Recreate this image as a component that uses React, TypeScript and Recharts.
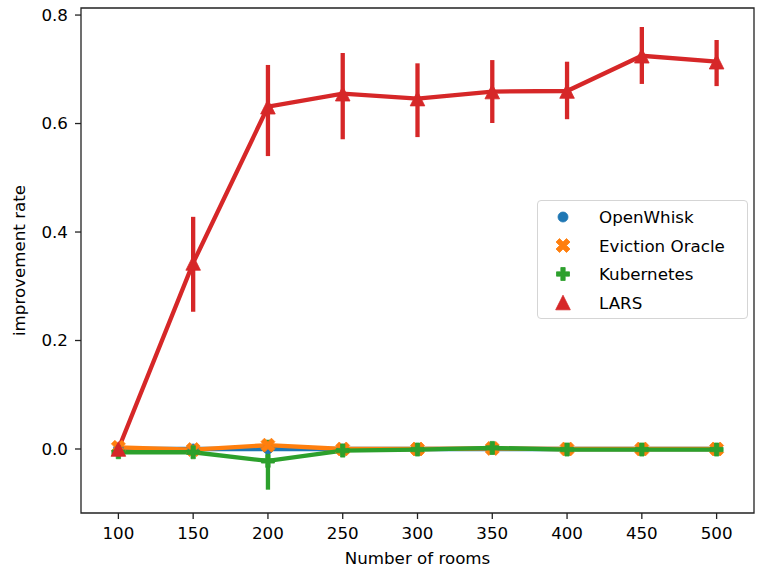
import React from 'react';
import {
  ComposedChart,
  Line,
  XAxis,
  YAxis,
  ErrorBar,
  ReferenceArea,
  Legend,
} from 'recharts';

const categories = ['100', '150', '200', '250', '300', '350', '400', '450', '500'];
const seriesNames = ['OpenWhisk', 'Eviction Oracle', 'Kubernetes', 'LARS'];

const openWhisk = [0, 0, 0, 0, 0, 0, 0, 0, 0];

const evictionOracle = [0.003, -0.001, 0.007, 0.0, 0.0, 0.001, 0.0, 0.0, 0.0];
const evictionLow = [0.0, -0.004, 0.002, -0.002, -0.002, -0.001, -0.002, -0.002, -0.002];
const evictionHigh = [0.006, 0.002, 0.012, 0.002, 0.002, 0.003, 0.002, 0.002, 0.002];

const kubernetes = [-0.006, -0.006, -0.022, -0.003, -0.001, 0.002, -0.001, -0.001, -0.001];
const kubernetesLow = [-0.01, -0.012, -0.075, -0.008, -0.004, -0.002, -0.004, -0.004, -0.004];
const kubernetesHigh = [-0.002, 0.0, 0.017, 0.002, 0.002, 0.006, 0.002, 0.002, 0.002];

const lars = [0.0, 0.343, 0.631, 0.655, 0.646, 0.659, 0.66, 0.725, 0.714];
const larsLow = [0.0, 0.253, 0.54, 0.571, 0.575, 0.601, 0.608, 0.673, 0.669];
const larsHigh = [0.0, 0.428, 0.708, 0.73, 0.711, 0.717, 0.714, 0.778, 0.754];

const yTicks = [0.0, 0.2, 0.4, 0.6, 0.8];
const yDomain: [number, number] = [-0.118, 0.813];
const xDomain: [number, number] = [-0.5, 8.5];

const COLORS: Record<string, string> = {
  OpenWhisk: '#1f77b4',
  'Eviction Oracle': '#ff7f0e',
  Kubernetes: '#2ca02c',
  LARS: '#d62728',
};

const FONT = '"DejaVu Sans", sans-serif';

const data = categories.map((label, i) => ({
  idx: i,
  label,
  openWhisk: openWhisk[i],
  eviction: evictionOracle[i],
  evictionErr: [evictionOracle[i] - evictionLow[i], evictionHigh[i] - evictionOracle[i]],
  kubernetes: kubernetes[i],
  kubernetesErr: [kubernetes[i] - kubernetesLow[i], kubernetesHigh[i] - kubernetes[i]],
  lars: lars[i],
  larsErr: [lars[i] - larsLow[i], larsHigh[i] - lars[i]],
}));

// matplotlib filled marker outlines
const PLUS_PTS = [
  [-1, -3], [1, -3], [1, -1], [3, -1], [3, 1], [1, 1],
  [1, 3], [-1, 3], [-1, 1], [-3, 1], [-3, -1], [-1, -1],
];
const X_PTS = [
  [-1, -2], [0, -1], [1, -2], [2, -1], [1, 0], [2, 1],
  [1, 2], [0, 1], [-1, 2], [-2, 1], [-1, 0], [-2, -1],
];

function polyPath(pts: number[][], cx: number, cy: number, u: number) {
  return 'M' + pts.map(([x, y]) => `${cx + x * u},${cy + y * u}`).join('L') + 'Z';
}

function triPath(cx: number, cy: number, s: number) {
  return `M${cx},${cy - s}L${cx - s},${cy + s}L${cx + s},${cy + s}Z`;
}

function drawMarker(name: string, cx: number, cy: number, key?: string) {
  const c = COLORS[name];
  if (name === 'OpenWhisk')
    return <circle key={key} cx={cx} cy={cy} r={5} fill={c} stroke={c} strokeWidth={0.8} />;
  if (name === 'Eviction Oracle')
    return <path key={key} d={polyPath(X_PTS, cx, cy, 14 / 4)} fill={c} stroke={c} strokeWidth={0.8} />;
  if (name === 'Kubernetes')
    return <path key={key} d={polyPath(PLUS_PTS, cx, cy, 13 / 6)} fill={c} stroke={c} strokeWidth={0.8} />;
  return <path key={key} d={triPath(cx, cy, 7.3)} fill={c} stroke={c} strokeWidth={0.8} />;
}

const makeDot = (name: string) => (props: any) => {
  const { cx, cy, index } = props;
  if (cx == null || cy == null) return <g key={`${name}-${index}`} />;
  return drawMarker(name, cx, cy, `${name}-${index}`);
};

const renderLegend = (props: any) => {
  const payload = (props.payload || []).slice().sort(
    (a: any, b: any) => seriesNames.indexOf(a.value) - seriesNames.indexOf(b.value)
  );
  const rowH = 28.5;
  return (
    <div
      style={{
        width: 211,
        height: 119,
        boxSizing: 'border-box',
        border: '1px solid #d5d5d5',
        borderRadius: 4,
        background: 'rgba(255,255,255,0.8)',
      }}
    >
      <svg width={209} height={117} style={{ display: 'block' }}>
        {payload.map((entry: any, i: number) => {
          const cy = 16 + i * rowH;
          return (
            <g key={entry.value}>
              {drawMarker(entry.value, 25, cy)}
              <text x={61} y={cy} dy="0.36em" fontSize={16.7} fontFamily={FONT} fill="#000">
                {entry.value}
              </text>
            </g>
          );
        })}
      </svg>
    </div>
  );
};

const YLabel = (props: any) => {
  const { viewBox } = props;
  const x = viewBox.x + 19;
  const y = viewBox.y + viewBox.height / 2;
  return (
    <text
      x={x}
      y={y}
      transform={`rotate(-90, ${x}, ${y})`}
      textAnchor="middle"
      dominantBaseline="central"
      fontSize={16.7}
      fontFamily={FONT}
      fill="#000"
    >
      improvement rate
    </text>
  );
};

const XLabel = (props: any) => {
  const { viewBox } = props;
  const x = viewBox.x + viewBox.width / 2;
  const y = viewBox.y + 45;
  return (
    <text x={x} y={y} textAnchor="middle" dominantBaseline="central" fontSize={16.7} fontFamily={FONT} fill="#000">
      Number of rooms
    </text>
  );
};

const LW = 4.3;

export default function App() {
  return (
    <div style={{ position: 'absolute', left: 0, top: 0, width: 759, height: 571, background: '#fff' }}>
      <ComposedChart
        width={759}
        height={571}
        data={data}
        margin={{ top: 8, right: 5, left: 0, bottom: 0 }}
        style={{ fontFamily: FONT }}
      >
        <XAxis
          dataKey="idx"
          type="number"
          domain={xDomain}
          ticks={categories.map((_, i) => i)}
          tickFormatter={(v: number) => categories[v]}
          allowDataOverflow
          height={58}
          axisLine={false}
          tickLine={{ stroke: '#222', strokeWidth: 1.3 }}
          tickSize={6}
          tickMargin={8}
          tick={{ fill: '#000', fontSize: 16.7, fontFamily: FONT }}
          interval={0}
          label={<XLabel />}
        />
        <YAxis
          type="number"
          domain={yDomain}
          ticks={yTicks}
          tickFormatter={(v: number) => v.toFixed(1)}
          allowDataOverflow
          width={81}
          axisLine={false}
          tickLine={{ stroke: '#222', strokeWidth: 1.3 }}
          tickSize={6}
          tickMargin={7}
          tick={{ fill: '#000', fontSize: 16.7, fontFamily: FONT }}
          interval={0}
          label={<YLabel />}
        />
        <ReferenceArea
          x1={xDomain[0]}
          x2={xDomain[1]}
          y1={yDomain[0]}
          y2={yDomain[1]}
          fill="none"
          fillOpacity={0}
          stroke="#222"
          strokeWidth={1.3}
        />
        <Line
          name="OpenWhisk"
          dataKey="openWhisk"
          type="linear"
          stroke={COLORS.OpenWhisk}
          strokeWidth={LW}
          dot={makeDot('OpenWhisk')}
          activeDot={false}
          isAnimationActive={false}
        />
        <Line
          name="Eviction Oracle"
          dataKey="eviction"
          type="linear"
          stroke={COLORS['Eviction Oracle']}
          strokeWidth={LW}
          dot={makeDot('Eviction Oracle')}
          activeDot={false}
          isAnimationActive={false}
        >
          <ErrorBar dataKey="evictionErr" width={0} strokeWidth={LW} stroke={COLORS['Eviction Oracle']} direction="y" />
        </Line>
        <Line
          name="Kubernetes"
          dataKey="kubernetes"
          type="linear"
          stroke={COLORS.Kubernetes}
          strokeWidth={LW}
          dot={makeDot('Kubernetes')}
          activeDot={false}
          isAnimationActive={false}
        >
          <ErrorBar dataKey="kubernetesErr" width={0} strokeWidth={LW} stroke={COLORS.Kubernetes} direction="y" />
        </Line>
        <Line
          name="LARS"
          dataKey="lars"
          type="linear"
          stroke={COLORS.LARS}
          strokeWidth={LW}
          dot={makeDot('LARS')}
          activeDot={false}
          isAnimationActive={false}
        >
          <ErrorBar dataKey="larsErr" width={0} strokeWidth={LW} stroke={COLORS.LARS} direction="y" />
        </Line>
        <Legend
          content={renderLegend}
          layout="vertical"
          align="center"
          verticalAlign="middle"
          wrapperStyle={{ left: 537, top: 200, width: 211, height: 119 }}
        />
      </ComposedChart>
    </div>
  );
}
